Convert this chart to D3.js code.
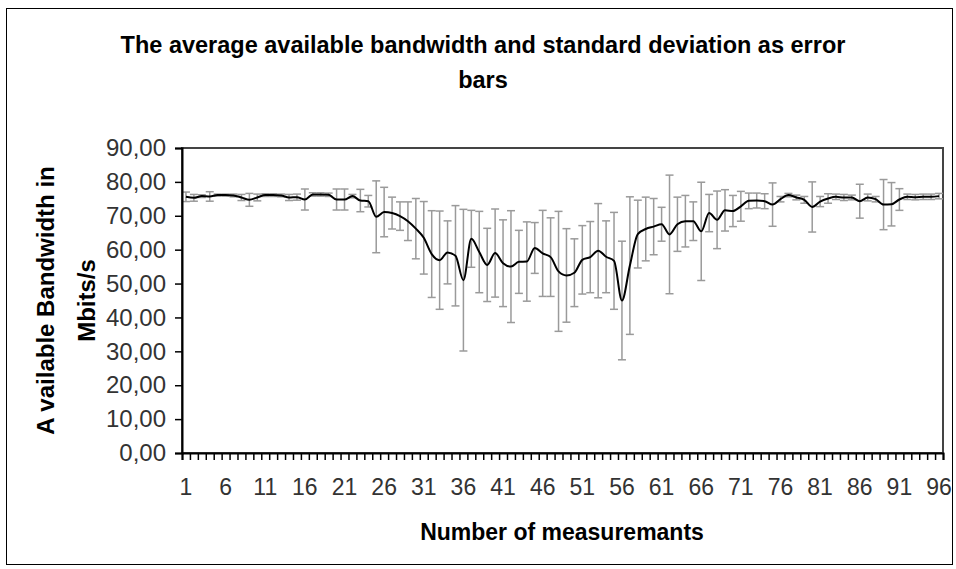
<!DOCTYPE html>
<html>
<head>
<meta charset="utf-8">
<script src="https://cdn.jsdelivr.net/npm/d3@7"></script>
<style>
  body { margin: 0; background: #fff; }
  text { font-family: "Liberation Sans", Arial, sans-serif; }
</style>
</head>
<body>
<div id="chart"></div>
<script>
// measurement numbers (categories)
var measurements = d3.range(1, 97);

// average available bandwidth per measurement (Mbits/s)
var avgBandwidth = [
  75.6, 75.3, 75.8, 75.7, 76.1, 76.1, 76.0, 75.4, 74.7, 75.4,
  76.1, 76.1, 76.0, 75.4, 75.5, 74.8, 76.3, 76.3, 76.2, 74.8,
  74.8, 75.8, 74.5, 74.3, 69.7, 71.1, 70.8, 69.9, 68.4, 66.2,
  63.5, 58.7, 56.9, 59.2, 58.2, 51.0, 63.2, 59.3, 55.5, 59.0,
  56.0, 55.0, 56.4, 56.5, 60.5, 58.9, 57.8, 53.6, 52.4, 53.2,
  57.0, 57.8, 59.7, 57.9, 56.7, 45.0, 55.3, 64.6, 66.1, 66.8,
  67.5, 64.5, 67.5, 68.4, 68.4, 65.4, 70.8, 68.8, 71.6, 71.4,
  72.8, 74.4, 74.5, 74.3, 73.3, 74.9, 76.1, 75.4, 74.7, 72.6,
  74.2, 75.1, 75.6, 75.4, 75.4, 74.3, 75.4, 74.9, 73.3, 73.4,
  74.8, 75.6, 75.5, 75.6, 75.6, 75.8
];

// standard deviation per measurement (error bar half-length)
var stdDev = [
  1.4, 1.0, 0.4, 1.4, 0.3, 0.3, 0.4, 0.9, 1.9, 1.0,
  0.4, 0.4, 0.4, 0.9, 0.9, 3.1, 0.5, 0.5, 0.5, 3.1,
  3.1, 0.5, 3.3, 1.7, 10.6, 7.3, 4.7, 4.2, 5.7, 8.9,
  10.7, 12.8, 14.5, 9.3, 14.8, 20.9, 8.4, 12.0, 10.8, 13.0,
  12.8, 16.5, 9.3, 11.7, 7.5, 12.7, 11.6, 17.7, 13.8, 10.0,
  10.1, 10.5, 13.9, 10.6, 14.3, 17.5, 20.3, 10.0, 9.4, 8.3,
  5.0, 17.5, 8.0, 7.6, 5.7, 14.5, 5.5, 8.5, 6.1, 4.6,
  4.4, 2.3, 2.2, 2.2, 6.4, 0.8, 0.5, 0.7, 1.0, 7.4,
  1.5, 1.4, 0.8, 0.9, 0.7, 5.0, 1.0, 0.8, 7.4, 6.4,
  3.2, 0.8, 0.8, 0.8, 0.8, 0.8
];

// axis ticks
var yTicks = [0, 10, 20, 30, 40, 50, 60, 70, 80, 90];
var xTickLabels = [1, 6, 11, 16, 21, 26, 31, 36, 41, 46, 51, 56, 61, 66, 71, 76, 81, 86, 91, 96];

var w = 956, h = 569;
var plot = { left: 182, right: 943, top: 148, bottom: 453 };

var svg = d3.select("#chart")
  .append("svg")
  .attr("width", w)
  .attr("height", h);

// chart area border
svg.append("rect")
  .attr("x", 6.5).attr("y", 8.5)
  .attr("width", 946).attr("height", 556)
  .attr("fill", "#fff")
  .attr("stroke", "#000")
  .attr("stroke-width", 1);

var x = d3.scaleBand()
  .domain(measurements)
  .range([plot.left, plot.right])
  .padding(0);

// linear helper for category boundaries (ticks between categories)
var xEdge = d3.scaleLinear()
  .domain([0.5, 96.5])
  .range([plot.left, plot.right]);

var y = d3.scaleLinear()
  .domain([0, 90])
  .range([plot.bottom, plot.top]);

// plot area border
svg.append("rect")
  .attr("x", plot.left).attr("y", plot.top)
  .attr("width", plot.right - plot.left)
  .attr("height", plot.bottom - plot.top)
  .attr("fill", "#fff")
  .attr("stroke", "#444")
  .attr("stroke-width", 2);

// error bars
var cx = function(d, i) { return x(measurements[i]) + x.bandwidth() / 2; };
var errG = svg.append("g")
  .attr("stroke", "#9a9a9a")
  .attr("stroke-width", 1.5);

errG.selectAll("line.stem")
  .data(avgBandwidth)
  .enter().append("line")
  .attr("class", "stem")
  .attr("x1", cx).attr("x2", cx)
  .attr("y1", function(d, i) { return y(d + stdDev[i]); })
  .attr("y2", function(d, i) { return y(d - stdDev[i]); });

["top", "bottom"].forEach(function(end) {
  errG.selectAll("line.cap-" + end)
    .data(avgBandwidth)
    .enter().append("line")
    .attr("class", "cap-" + end)
    .attr("x1", function(d, i) { return cx(d, i) - 4; })
    .attr("x2", function(d, i) { return cx(d, i) + 4; })
    .attr("y1", function(d, i) { return y(end === "top" ? d + stdDev[i] : d - stdDev[i]); })
    .attr("y2", function(d, i) { return y(end === "top" ? d + stdDev[i] : d - stdDev[i]); });
});

// average line
var line = d3.line()
  .x(cx)
  .y(function(d) { return y(d); })
  .curve(d3.curveMonotoneX);

svg.append("path")
  .datum(avgBandwidth)
  .attr("d", line)
  .attr("fill", "none")
  .attr("stroke", "#000")
  .attr("stroke-width", 2);

// y axis
var yAxis = svg.append("g")
  .attr("transform", "translate(" + plot.left + ",0)")
  .call(d3.axisLeft(y)
    .tickValues(yTicks)
    .tickSize(7)
    .tickPadding(9)
    .tickFormat(function(d) { return d3.format(".2f")(d).replace(".", ","); }));
yAxis.select(".domain").attr("stroke", "#000").attr("stroke-width", 2);
yAxis.selectAll(".tick line").attr("stroke", "#000").attr("stroke-width", 1.5);
yAxis.selectAll(".tick text")
  .attr("font-size", 24)
  .attr("font-family", "Liberation Sans, Arial, sans-serif")
  .attr("fill", "#333");

// x axis: ticks between categories
var xTicksG = svg.append("g")
  .attr("transform", "translate(0," + plot.bottom + ")")
  .call(d3.axisBottom(xEdge)
    .tickValues(d3.range(0.5, 97, 1))
    .tickSize(7)
    .tickFormat(""));
xTicksG.select(".domain").attr("stroke", "#000").attr("stroke-width", 2);
xTicksG.selectAll(".tick line").attr("stroke", "#000").attr("stroke-width", 1.5);

// x axis labels
var xLabG = svg.append("g")
  .attr("transform", "translate(0," + plot.bottom + ")")
  .call(d3.axisBottom(x)
    .tickValues(xTickLabels)
    .tickSize(0)
    .tickPadding(26));
xLabG.select(".domain").remove();
xLabG.selectAll(".tick text")
  .attr("font-size", 23)
  .attr("font-family", "Liberation Sans, Arial, sans-serif")
  .attr("fill", "#333");

// title
var title = svg.append("text")
  .attr("text-anchor", "middle")
  .attr("font-size", 23.5)
  .attr("font-weight", "bold");
title.append("tspan").attr("x", 483).attr("y", 53)
  .text("The average available bandwidth and standard deviation as error");
title.append("tspan").attr("x", 483).attr("y", 88)
  .text("bars");

// x axis title
svg.append("text")
  .attr("x", 562).attr("y", 540)
  .attr("text-anchor", "middle")
  .attr("font-size", 23)
  .attr("font-weight", "bold")
  .text("Number of measuremants");

// y axis title
var yTitle = svg.append("text")
  .attr("transform", "translate(0," + ((plot.top + plot.bottom) / 2) + ") rotate(-90)")
  .attr("text-anchor", "middle")
  .attr("font-size", 24)
  .attr("font-weight", "bold");
yTitle.append("tspan").attr("x", 0).attr("y", 54).text("A vailable Bandwidth in");
yTitle.append("tspan").attr("x", 0).attr("y", 95).text("Mbits/s");
</script>
</body>
</html>
